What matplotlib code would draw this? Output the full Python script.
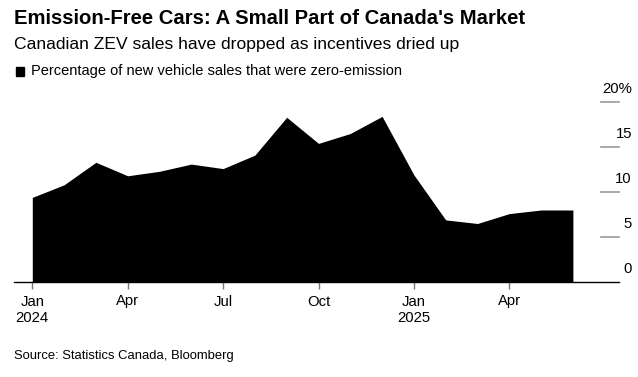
import matplotlib
matplotlib.use("Agg")
import matplotlib.pyplot as plt
import matplotlib.transforms as mtransforms
from matplotlib.patches import Rectangle

months = ["Jan 2024", "Feb 2024", "Mar 2024", "Apr 2024", "May 2024", "Jun 2024",
          "Jul 2024", "Aug 2024", "Sep 2024", "Oct 2024", "Nov 2024", "Dec 2024",
          "Jan 2025", "Feb 2025", "Mar 2025", "Apr 2025", "May 2025", "Jun 2025"]
zev_share = [9.4, 10.8, 13.3, 11.8, 12.3, 13.1, 12.6, 14.1, 18.3,
             15.4, 16.5, 18.4, 11.9, 6.9, 6.5, 7.6, 8.0, 8.0]
x_tick_pos = [0, 3, 6, 9, 12, 15]
x_tick_labels = ["Jan\n2024", "Apr", "Jul", "Oct", "Jan\n2025", "Apr"]
y_ticks = [0, 5, 10, 15, 20]
y_tick_labels = ["0", "5", "10", "15", "20%"]

plt.rcParams['font.family'] = ['Liberation Sans', 'DejaVu Sans']

W, H = 638, 377
fig = plt.figure(figsize=(W / 100, H / 100), dpi=100)
ax = fig.add_axes([14 / W, 1 - 282 / H, (619 - 14) / W, (282 - 102) / H])

x = list(range(len(zev_share)))
ax.fill_between(x, zev_share, 0, color="black", linewidth=0)
ax.set_xlim((14 - 32.3) / 31.8, (619 - 32.3) / 31.8)
ax.set_ylim(0, 20)

for s in ["top", "right", "left"]:
    ax.spines[s].set_visible(False)
ax.spines["bottom"].set_linewidth(1.0)
ax.spines["bottom"].set_color("black")
ax.set_yticks([])
ax.set_xticks(x_tick_pos)
ax.set_xticklabels(x_tick_labels, fontsize=10.7, linespacing=1.25)
ax.tick_params(axis="x", length=5, width=1, color="#777777", pad=4)

# right-side y tick marks and labels
trans = mtransforms.blended_transform_factory(ax.transAxes, ax.transData)
ax_w = 619 - 14
for v, lab in zip(y_ticks, y_tick_labels):
    if v != 0:
        ax.plot([(601 - 14) / ax_w, 1.0], [v, v], transform=trans,
                color="#999999", lw=1.2, clip_on=False)
    off = mtransforms.offset_copy(trans, fig=fig, x=0, y=13, units="dots")
    ax.text((632 - 14) / ax_w, v, lab, transform=off, ha="right", va="center",
            fontsize=10.7, color="black")

fig.text(14 / W, 1 - 18 / H, "Emission-Free Cars: A Small Part of Canada's Market",
         fontsize=14.6, fontweight="bold", va="center", ha="left")
fig.text(14 / W, 1 - 45 / H, "Canadian ZEV sales have dropped as incentives dried up",
         fontsize=12.6, va="center", ha="left")
fig.patches.append(Rectangle((16 / W, 1 - 76 / H), 8 / W, 9 / H,
                             transform=fig.transFigure, color="black"))
fig.text(31 / W, 1 - 71 / H, "Percentage of new vehicle sales that were zero-emission",
         fontsize=10.5, va="center", ha="left")
fig.text(14 / W, 1 - 356 / H, "Source: Statistics Canada, Bloomberg",
         fontsize=9.4, va="center", ha="left")

fig.savefig("out.png", dpi=100)
